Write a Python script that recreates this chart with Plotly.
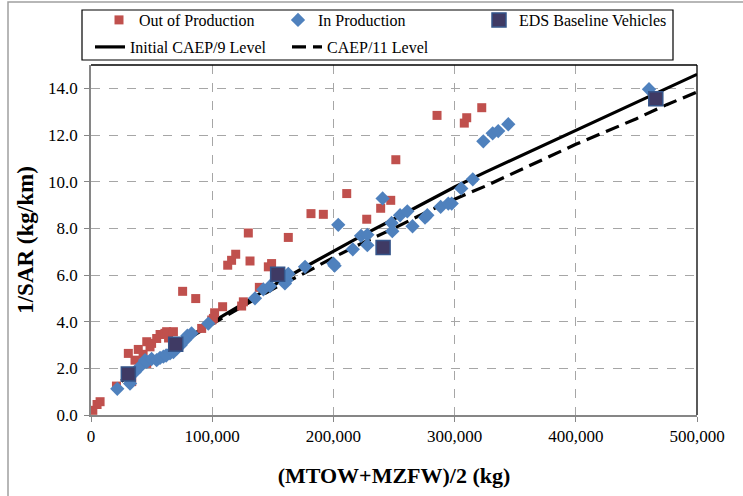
import plotly.graph_objects as go

# ---- data ----
out_x = [1500, 5000, 7500, 21000, 33600, 30800, 36300, 39000, 43000, 46000, 46000, 48700, 50000,
         54200, 57000, 61000, 62400, 64000, 68000, 75600, 86400, 91300, 99600, 101000, 102000,
         108600, 112800, 116000, 119400, 124300, 125700, 129800, 131200, 138900, 146300, 149000,
         162800, 181500, 191700, 211000, 227500, 239000, 247300, 251500, 285500, 308000, 310000,
         322400]
out_y = [0.20, 0.45, 0.57, 1.24, 1.43, 2.64, 2.35, 2.81, 2.60, 2.21, 3.14, 2.92, 3.07,
         3.28, 3.45, 3.50, 3.57, 3.30, 3.57, 5.30, 4.99, 3.71, 4.07, 4.14, 4.38,
         4.64, 6.42, 6.63, 6.89, 4.67, 4.85, 7.80, 6.60, 5.47, 6.35, 6.49,
         7.61, 8.63, 8.60, 9.49, 8.39, 8.86, 9.20, 10.94, 12.84, 12.51, 12.74,
         13.17]

in_x = [21700, 32200, 36300, 40400, 44600, 46000, 50000, 54200, 57000, 59700, 62000, 65200,
        68000, 70700, 74000, 77600, 79500, 83000, 96800, 135300, 142200, 147700, 160000,
        161400, 162800, 176600, 200000, 201000, 204000, 216000, 222800, 228000, 228000,
        240600, 248000, 248600, 255000, 261000, 265300, 275600, 277500, 288500, 294800,
        297600, 305500, 315000, 323700, 331400, 336000, 344300, 460400]
in_y = [1.12, 1.35, 1.85, 2.07, 2.35, 2.28, 2.40, 2.35, 2.45, 2.50, 2.55, 2.64,
        2.70, 2.85, 3.00, 3.21, 3.40, 3.50, 3.92, 5.00, 5.38, 5.52, 5.64,
        5.78, 6.05, 6.35, 6.49, 6.40, 8.15, 7.10, 7.68, 7.72, 7.28,
        9.28, 8.23, 7.88, 8.56, 8.73, 8.09, 8.46, 8.56, 8.92, 9.06,
        9.06, 9.71, 10.10, 11.73, 12.07, 12.17, 12.46, 13.96]

eds_x = [30800, 69900, 154000, 241000, 466000]
eds_y = [1.76, 3.03, 6.03, 7.18, 13.55]

line_x = [25000, 50000, 75000, 100000, 125000, 150000, 175000, 200000, 225000, 250000,
          275000, 300000, 325000, 350000, 375000, 400000, 425000, 450000, 475000, 500000]
caep9_y = [1.45, 2.30, 3.15, 3.98, 4.75, 5.55, 6.30, 7.03, 7.73, 8.40,
           9.10, 9.77, 10.40, 11.00, 11.60, 12.17, 12.80, 13.40, 14.00, 14.60]
caep11_y = [1.45, 2.30, 3.10, 3.90, 4.65, 5.40, 6.05, 6.75, 7.40, 8.00,
            8.65, 9.25, 9.80, 10.40, 11.00, 11.60, 12.15, 12.70, 13.30, 13.84]

x_ticks = [0, 100000, 200000, 300000, 400000, 500000]
y_ticks = [0, 2, 4, 6, 8, 10, 12, 14]

FONT = "Liberation Serif"

fig = go.Figure()
fig.add_trace(go.Scatter(x=line_x, y=caep9_y, mode="lines", name="Initial CAEP/9 Level",
                         line=dict(color="black", width=3.2), legend="legend2", legendrank=1))
fig.add_trace(go.Scatter(x=line_x, y=caep11_y, mode="lines", name="CAEP/11 Level",
                         line=dict(color="black", width=3.2, dash="14px,7px"),
                         legend="legend2", legendrank=2))
fig.add_trace(go.Scatter(x=out_x, y=out_y, mode="markers", name="Out of Production",
                         marker=dict(symbol="square", size=9, color="#C0504D"), legendrank=1))
fig.add_trace(go.Scatter(x=in_x, y=in_y, mode="markers", name="In Production",
                         marker=dict(symbol="diamond", size=11, color="#4F81BD"), legendrank=2))
fig.add_trace(go.Scatter(x=eds_x, y=eds_y, mode="markers", name="EDS Baseline Vehicles",
                         marker=dict(symbol="square", size=14, color="#3F3A64",
                                     line=dict(color="#35558A", width=1.5)), legend="legend3"))

W, H = 743, 496
L, R, T, B = 91, 46, 65, 81
pw, ph = W - L - R, H - T - B

def px2paper_x(px):
    return (px - L) / pw

def py2paper_y(py):
    return (H - B - py) / ph

leg_common = dict(orientation="h", xanchor="left", yanchor="top",
                  borderwidth=0, bgcolor="rgba(0,0,0,0)",
                  font=dict(family=FONT, size=16, color="black"), traceorder="normal")

fig.update_layout(
    width=W, height=H,
    margin=dict(l=L, r=R, t=T, b=B, autoexpand=False),
    paper_bgcolor="white", plot_bgcolor="white",
    font=dict(family=FONT, size=17, color="black"),
    legend=dict(x=px2paper_x(99), y=py2paper_y(3), entrywidth=134, **leg_common),
    legend3=dict(x=px2paper_x(479), y=py2paper_y(3), **leg_common),
    legend2=dict(x=px2paper_x(90), y=py2paper_y(30), entrywidth=152, **leg_common),
    xaxis=dict(range=[0, 500000], tickvals=x_ticks, tickformat=",d",
               showgrid=True, gridcolor="#A6A6A6", griddash="dash", gridwidth=1,
               showline=True, linecolor="#868686", linewidth=1.5,
               ticks="outside", ticklen=5, tickcolor="#868686",
               zeroline=False, automargin=False,
               title=dict(text="<b>(MTOW+MZFW)/2 (kg)</b>", font=dict(size=22), standoff=22)),
    yaxis=dict(range=[0, 15], tickvals=y_ticks, tickformat=".1f",
               showgrid=True, gridcolor="#A6A6A6", griddash="dash", gridwidth=1,
               showline=True, linecolor="#868686", linewidth=1.5,
               ticks="outside", ticklen=5, tickcolor="#868686", ticklabelstandoff=3,
               zeroline=False, automargin=False,
               title=dict(text="<b>1/SAR (kg/km)</b>", font=dict(size=23), standoff=8)),
    shapes=[
        dict(type="line", xref="paper", yref="paper", x0=0, x1=1, y0=1, y1=1,
             line=dict(color="black", width=1.3)),
        dict(type="line", xref="paper", yref="paper", x0=1, x1=1, y0=0, y1=1,
             line=dict(color="black", width=1.3)),
        dict(type="rect", xref="paper", yref="paper",
             x0=px2paper_x(8), x1=px2paper_x(760), y0=py2paper_y(510), y1=py2paper_y(2),
             line=dict(color="#A0A0A0", width=1.5), fillcolor="rgba(0,0,0,0)", layer="below"),
        # legend frame
        dict(type="rect", xref="paper", yref="paper",
             x0=px2paper_x(82), x1=px2paper_x(673), y0=py2paper_y(60), y1=py2paper_y(10),
             line=dict(color="black", width=1.2), fillcolor="white", layer="above"),
    ],
)

fig.write_html("out.html")
